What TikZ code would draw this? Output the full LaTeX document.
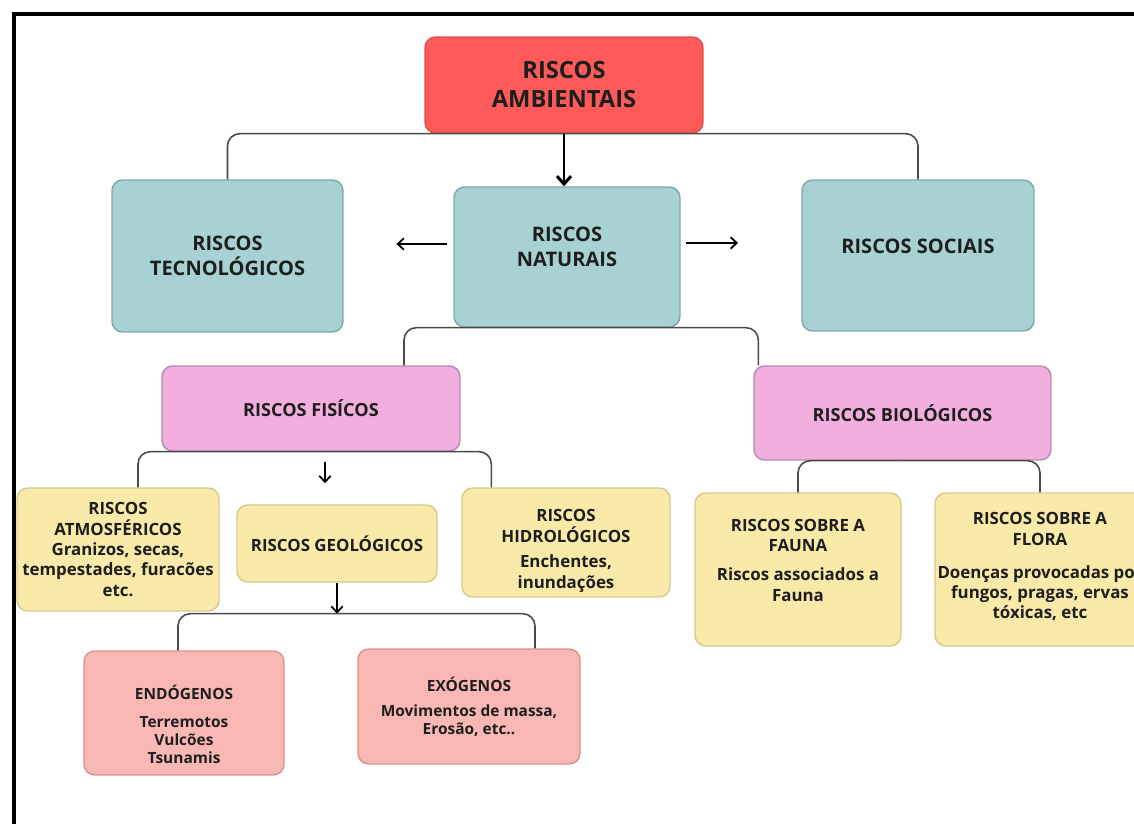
\documentclass[tikz,border=0pt]{standalone}
\usepackage{fontspec}
\setmainfont{Open Sans}
\usepackage{tikz}
\usetikzlibrary{positioning, calc, arrows.meta}

\definecolor{redbox}{HTML}{FF5A5A}
\definecolor{redline}{HTML}{E24B4B}
\definecolor{tealbox}{HTML}{A8D1D3}
\definecolor{tealline}{HTML}{7DA9AB}
\definecolor{pinkbox}{HTML}{F2AEDD}
\definecolor{pinkline}{HTML}{B68AAB}
\definecolor{yelbox}{HTML}{F9EAA9}
\definecolor{yelline}{HTML}{D7C890}
\definecolor{salbox}{HTML}{F9B8B3}
\definecolor{salline}{HTML}{D8918B}
\definecolor{linecol}{HTML}{4A4A4A}
\definecolor{txtcol}{HTML}{1E1E1E}

\tikzset{
  box/.style={rectangle, rounded corners=6pt, line width=0.8pt, inner sep=0pt},
  ambtxt/.style={align=center, text=txtcol, font=\bfseries\fontsize{13.5}{16.5}\selectfont},
  tealtxt/.style={align=center, text=txtcol, font=\bfseries\fontsize{11.4}{14.2}\selectfont},
  pinktxt/.style={align=center, text=txtcol, font=\bfseries\fontsize{10.3}{12}\selectfont},
  yeltxt/.style={align=center, text=txtcol, font=\bfseries\fontsize{9.6}{11.6}\selectfont},
  saltxt/.style={align=center, text=txtcol, font=\bfseries\fontsize{8.8}{10.2}\selectfont},
  ambbox/.style={box, ambtxt, fill=redbox, draw=redline},
  tealnode/.style={box, tealtxt, fill=tealbox, draw=tealline},
  pinknode/.style={box, pinktxt, fill=pinkbox, draw=pinkline},
  yelnode/.style={box, yeltxt, fill=yelbox, draw=yelline},
  salnode/.style={box, saltxt, fill=salbox, draw=salline},
  conn/.style={draw=linecol, line width=0.9pt, rounded corners=7pt},
  arr/.style={-{Straight Barb[length=3.5pt, width=6.5pt]}, line width=1pt},
  bigarr/.style={-{Straight Barb[length=4.5pt, width=8pt]}, line width=1.7pt},
}

\begin{document}
\begin{tikzpicture}[x=0.02cm, y=-0.02cm]
\useasboundingbox (0,0) rectangle (1134,824);
% frame
\draw[line width=2pt] (14,824) -- (14,14) -- (1134,14);

% top
\node[ambbox, minimum width=5.56cm, minimum height=1.92cm] (amb) at (564,85) {RISCOS\\AMBIENTAIS};

% second row
\node[tealnode, minimum width=4.62cm, minimum height=3.04cm] (tec) at (227.5,256) {RISCOS\\TECNOLÓGICOS};
\node[tealnode, minimum width=4.52cm, minimum height=2.8cm,
      label={[tealtxt, yshift=5.7pt]center:{RISCOS\\NATURAIS}}] (nat) at (567,257) {};
\node[tealnode, minimum width=4.64cm, minimum height=3.02cm,
      label={[tealtxt, yshift=5.4pt]center:{RISCOS SOCIAIS}}] (soc) at (918,255.5) {};

% third row
\node[pinknode, minimum width=5.96cm, minimum height=1.7cm] (fis) at (311,408.5) {RISCOS FISÍCOS};
\node[pinknode, minimum width=5.94cm, minimum height=1.88cm] (bio) at (902.5,413) {RISCOS BIOLÓGICOS};

% fourth row
\node[yelnode, minimum width=4.04cm, minimum height=2.46cm] (atm) at (118,549.5)
  {RISCOS\\ATMOSFÉRICOS\\Granizos, secas,\\tempestades, furacões\\etc.};
\node[yelnode, minimum width=4cm, minimum height=1.54cm] (geo) at (337,543.5) {RISCOS GEOLÓGICOS};
\node[yelnode, minimum width=4.16cm, minimum height=2.18cm,
      label={[yeltxt, yshift=-4.8pt]center:{RISCOS\\HIDROLÓGICOS\\[3pt]Enchentes,\\inundações}}] (hid) at (566,542.5) {};
\node[yelnode, minimum width=4.12cm, minimum height=3.06cm,
      label={[yeltxt, yshift=5.4pt]center:{RISCOS SOBRE A\\FAUNA\\[5pt]Riscos associados a\\Fauna}}] (fau) at (798,569.5) {};
\node[yelnode, minimum width=4.2cm, minimum height=3.06cm,
      label={[yeltxt, yshift=1.5pt]center:{RISCOS SOBRE A\\FLORA\\[7pt]Doenças provocadas por\\fungos, pragas, ervas\\tóxicas, etc}}] (flo) at (1040,569.5) {};

% bottom row
\node[salnode, minimum width=4cm, minimum height=2.48cm,
      label={[saltxt, yshift=-6.5pt]center:{ENDÓGENOS\\[6pt]Terremotos\\Vulcões\\Tsunamis}}] (end) at (184,713) {};
\node[salnode, minimum width=4.44cm, minimum height=2.3cm] (exo) at (469,706.5)
  {EXÓGENOS\\[4pt]Movimentos de massa,\\Erosão, etc..};

% connectors
\draw[conn] (amb.south) -| (tec.north);
\draw[conn] (amb.south) -| (soc.north);
\draw[bigarr] (amb.south) -- (amb.south |- nat.north);
\draw[arr, shorten <=3.4pt, shorten >=30pt] ([yshift=7.4pt]nat.west) -- ([yshift=7.4pt]nat.west -| tec.east);
\draw[arr, shorten <=3pt, shorten >=36pt] ([yshift=8pt]nat.east) -- ([yshift=8pt]nat.east -| soc.west);

\draw[conn] (nat.south) -| ($(fis.north)+(93,0)$);
\draw[conn] (nat.south) -| ($(bio.north west)+(5,0)$);

\draw[conn] (fis.south) -| ($(atm.north)+(20,0)$);
\draw[conn] (fis.south) -| ($(hid.north west)+(30,0)$);
\coordinate (g1) at ($(geo.north)+(-12,0)$);
\draw[arr, shorten <=5.7pt, shorten >=12pt] (g1 |- fis.south) -- (g1);

\coordinate (gj) at ($(geo.south)+(0,31)$);
\draw[arr] (geo.south) -- (gj);
\draw[conn] (gj) -| ($(end.north)+(-6,0)$);
\draw[conn] (gj) -| ($(exo.north)+(66,0)$);

\draw[conn] (bio.south) -| (fau.north);
\draw[conn] (bio.south) -| (flo.north);
\end{tikzpicture}
\end{document}
